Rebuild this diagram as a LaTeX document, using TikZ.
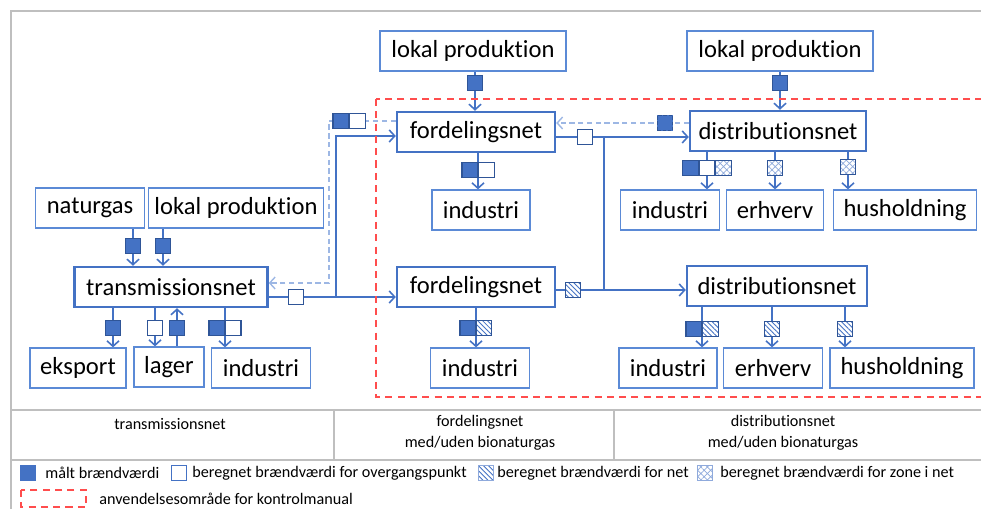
\documentclass[tikz,border=0pt]{standalone}
\usepackage{fontspec}
\setmainfont{Carlito}[Ligatures=NoCommon]
\usetikzlibrary{arrows.meta,backgrounds,patterns.meta}
\definecolor{boxblue}{HTML}{5B8AD6}
\definecolor{netblue}{HTML}{4472C4}
\definecolor{mkborder}{HTML}{2F5597}
\definecolor{fbblue}{HTML}{9DB7E4}
\definecolor{zoneblue}{HTML}{8FAADC}
\definecolor{scopered}{HTML}{FF4D4D}
\definecolor{framegray}{HTML}{BFBFBF}

\begin{document}
\begin{tikzpicture}[
  x=0.02cm,y=-0.02cm,
  font=\fontsize{14}{16}\selectfont,
  >={Straight Barb[length=1.1mm,width=2.4mm]},
  box/.style={draw=boxblue,line width=0.7pt,fill=white,inner sep=0pt,minimum height=0.8cm},
  netbox/.style={box,draw=netblue,line width=1.4pt},
  conn/.style={draw=netblue,line width=0.9pt},
  fb/.style={draw=fbblue,line width=0.8pt,dash pattern=on 3pt off 2pt},
  mk/.style={draw=mkborder,line width=0.6pt,minimum size=0.31cm,inner sep=0pt},
  maalt/.style={mk,fill=netblue},
  beregnet/.style={mk,fill=white},
  netmk/.style={mk,preaction={fill=white},pattern={Lines[angle=-45,distance=2pt,line width=0.5pt]},pattern color=netblue},
  zonemk/.style={mk,preaction={fill=white},pattern={Hatch[angle=45,distance=2.6pt,line width=0.4pt]},pattern color=zoneblue},
  legtext/.style={font=\fontsize{9.2}{11}\selectfont,inner sep=0pt},
]
\useasboundingbox (0,0) rectangle (981,509);

% ============ frame + table ============
\draw[framegray,line width=0.8pt] (981,11) -- (11,11) -- (11,509);
\draw[framegray,line width=1.2pt] (11,410) -- (981,410);
\draw[framegray,line width=0.7pt] (11,460) -- (981,460);
\draw[framegray,line width=0.7pt] (334,410) -- (334,460);
\draw[framegray,line width=0.7pt] (614,410) -- (614,460);
\draw[scopered,line width=0.9pt,dash pattern=on 4pt off 3pt] (376,99) rectangle (990,397);

% ============ boxes ============
\node[box,minimum width=3.72cm] (lp1) at (473,51) {lokal produktion};
\node[box,minimum width=3.72cm] (lp2) at (780,51) {lokal produktion};
\node[netbox,minimum width=3.16cm] (fn1) at (476,132) {fordelingsnet};
\node[netbox,minimum width=3.52cm] (dn1) at (778,131) {distributionsnet};
\node[box,minimum width=1.96cm] (ind1) at (481,210) {industri};
\node[box,minimum width=1.98cm] (ind2) at (670,210) {industri};
\node[box,minimum width=1.94cm] (erh1) at (775,210) {erhverv};
\node[box,minimum width=2.86cm] (hus1) at (905,210) {husholdning};
\node[box,minimum width=2.18cm] (nat) at (90,208) {naturgas};
\node[box,minimum width=3.50cm] (lp3) at (236,208) {lokal produktion};
\node[netbox,minimum width=3.86cm] (tn) at (171,287) {transmissionsnet};
\node[box,minimum width=1.92cm] (eks) at (78,368) {eksport};
\node[box,minimum width=1.40cm] (lag) at (169,367) {lager};
\node[box,minimum width=1.98cm] (ind3) at (261,368) {industri};
\node[netbox,minimum width=3.16cm] (fn2) at (476,287) {fordelingsnet};
\node[box,minimum width=1.98cm] (ind4) at (480,368) {industri};
\node[netbox,minimum width=3.60cm] (dn2) at (777,286) {distributionsnet};
\node[box,minimum width=1.96cm] (ind5) at (668,368) {industri};
\node[box,minimum width=1.98cm] (erh2) at (773,368) {erhverv};
\node[box,minimum width=2.88cm] (hus2) at (902,368) {husholdning};

% ============ markers ============
\node[maalt] (m1) at (475,83) {};
\node[maalt] (m2) at (780,83) {};
\node[maalt,anchor=east] (m3a) at (478,170) {};
\node[beregnet,anchor=west] (m3b) at (478,170) {};
\node[beregnet] (m4b) at (707,168) {};
\node[maalt,anchor=east] (m4a) at (m4b.west) {};
\node[zonemk,anchor=west] (m4c) at (m4b.east) {};
\node[zonemk] (m5) at (775,168) {};
\node[zonemk] (m6) at (848,167) {};
\node[maalt] (m7) at (133,246) {};
\node[maalt] (m8) at (163,246) {};
\node[maalt] (m9) at (113,328) {};
\node[beregnet] (m10) at (155,328) {};
\node[maalt] (m11) at (177,328) {};
\node[maalt,anchor=east] (m12a) at (225,328) {};
\node[beregnet,anchor=west] (m12b) at (225,328) {};
\node[maalt,anchor=east] (m13a) at (476,328) {};
\node[netmk,anchor=west] (m13b) at (476,328) {};
\node[maalt,anchor=east] (m14a) at (702,329) {};
\node[netmk,anchor=west] (m14b) at (702,329) {};
\node[netmk] (m15) at (772,329) {};
\node[netmk] (m16) at (845,329) {};
\node[beregnet] (m17) at (296,297) {};
\node[beregnet] (m19) at (585,137) {};
\node[netmk] (m20) at (573,290) {};
\node[maalt,anchor=east] (m21a) at (349,121) {};
\node[beregnet,anchor=west] (m21b) at (349,121) {};
\node[maalt,dash pattern=on 2pt off 1pt] (m22) at (665,123) {};

% ============ connectors ============
\coordinate (j1) at (336,297);
\coordinate (j2) at (336,136);
\coordinate (j3) at (604,137);
\coordinate (j4) at (604,290);
\coordinate (fbA) at (329,121);
\coordinate (fbB) at (329,283);
\coordinate (fbC) at (620,123);
\begin{scope}[on background layer]
\draw[conn,->] (lp1.south -| m1) -- (fn1.north -| m1);
\draw[conn,->] (lp2.south -| m2) -- (dn1.north -| m2);
\draw[conn,->] (fn1.south -| m3a.east) -- (ind1.north -| m3a.east);
\draw[conn,->] (dn1.south -| m4b) -- (ind2.north -| m4b);
\draw[conn,->] (dn1.south -| m5) -- (erh1.north -| m5);
\draw[conn,->] (dn1.south -| m6) -- (hus1.north -| m6);
\draw[conn,->] (nat.south -| m7) -- (tn.north -| m7);
\draw[conn,->] (lp3.south -| m8) -- (tn.north -| m8);
\draw[conn,->] (tn.south -| m9) -- (eks.north -| m9);
\draw[conn,->] (tn.south -| m10) -- (lag.north -| m10);
\draw[conn,->] (lag.north -| m11) -- (tn.south -| m11);
\draw[conn,->] (tn.south -| m12a.east) -- (ind3.north -| m12a.east);
\draw[conn,->] (fn2.south -| m13a.east) -- (ind4.north -| m13a.east);
\draw[conn,->] (dn2.south -| m14a.east) -- (ind5.north -| m14a.east);
\draw[conn,->] (dn2.south -| m15) -- (erh2.north -| m15);
\draw[conn,->] (dn2.south -| m16) -- (hus2.north -| m16);
\draw[conn,->] (tn.east |- j1) -- (fn2.west |- j1);
\draw[conn,->] (j1) -- (j2) -- (fn1.west |- j2);
\draw[conn,->] (fn1.east |- j3) -- (dn1.west |- j3);
\draw[conn,->] (fn2.east |- j4) -- (dn2.west |- j4);
\draw[conn] (j3) -- (j4);
\draw[fb,->] (fn1.west |- fbA) -- (fbA) -- (fbB) -- (tn.east |- fbB);
\draw[fb,->] (dn1.west |- fbC) -- (fn1.east |- fbC);
\end{scope}

% ============ table ============
\node[legtext] (t1) at (170,424) {transmissionsnet};
\node[legtext,align=center] (t2) at (480,433) {fordelingsnet\\[1pt]med/uden bionaturgas};
\node[legtext,align=center] (t3) at (783,433) {distributionsnet\\[1pt]med/uden bionaturgas};

% ============ legend ============
\node[maalt,draw=netblue] (lg1) at (28,473) {};
\node[legtext,anchor=west] (lt1) at (45,473) {målt brændværdi};
\node[beregnet,draw=netblue] (lg2) at (179,473) {};
\node[legtext,anchor=west] (lt2) at (192,473) {beregnet brændværdi for overgangspunkt};
\node[netmk,draw=zoneblue] (lg3) at (486,473) {};
\node[legtext,anchor=west] (lt3) at (497,473) {beregnet brændværdi for net};
\node[zonemk,draw=zoneblue] (lg4) at (705,473) {};
\node[legtext,anchor=west] (lt4) at (720,473) {beregnet brændværdi for zone i net};
\draw[scopered,line width=0.9pt,dash pattern=on 4pt off 3pt] (21,490) rectangle (86,507);
\node[legtext,anchor=west] (lt5) at (99,499) {anvendelsesområde for kontrolmanual};

\end{tikzpicture}
\end{document}
